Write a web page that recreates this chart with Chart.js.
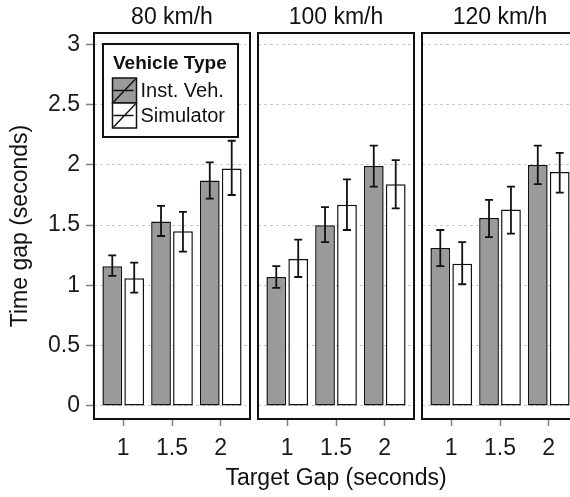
<!DOCTYPE html>
<html><head><meta charset="utf-8">
<script src="https://cdn.jsdelivr.net/npm/chart.js@4/dist/chart.umd.min.js"></script>
<style>
html,body{margin:0;padding:0;background:#fff;overflow:hidden;width:570px;height:497px}
#wrap{position:relative;width:570px;height:497px;overflow:hidden;background:#fff}
canvas{position:absolute;top:0}
</style></head><body>
<div id="wrap">
<canvas id="c1" width="253" height="497" style="left:0px"></canvas>
<canvas id="c2" width="280" height="497" style="left:200px"></canvas>
<canvas id="c3" width="162" height="497" style="left:419px"></canvas>
</div>
<script>
// ---- data ----
const speeds = ['80 km/h', '100 km/h', '120 km/h'];
const targetGaps = ['1', '1.5', '2'];
const seriesNames = ['Inst. Veh.', 'Simulator'];
const legendTitle = 'Vehicle Type';
const yTickValues = [0, 0.5, 1, 1.5, 2, 2.5, 3];
const yTitle = 'Time gap (seconds)';
const xTitle = 'Target Gap (seconds)';

const inst80 = [1.16, 1.53, 1.87];
const inst80Low = [1.08, 1.41, 1.72];
const inst80High = [1.25, 1.66, 2.02];
const sim80 = [1.06, 1.45, 1.97];
const sim80Low = [0.94, 1.28, 1.75];
const sim80High = [1.19, 1.61, 2.20];

const inst100 = [1.07, 1.50, 1.99];
const inst100Low = [0.98, 1.36, 1.82];
const inst100High = [1.16, 1.65, 2.16];
const sim100 = [1.22, 1.67, 1.84];
const sim100Low = [1.07, 1.46, 1.64];
const sim100High = [1.38, 1.88, 2.04];

const inst120 = [1.31, 1.56, 2.00];
const inst120Low = [1.16, 1.40, 1.84];
const inst120High = [1.46, 1.71, 2.16];
const sim120 = [1.18, 1.63, 1.94];
const sim120Low = [1.01, 1.43, 1.77];
const sim120High = [1.36, 1.82, 2.10];

// ---- styling ----
const FONT = "'Liberation Sans', Arial, Helvetica, sans-serif";
const GREY = '#9a9a9a';
Chart.defaults.font.family = FONT;
Chart.defaults.color = '#1a1a1a';

const errorBarPlugin = {
  id: 'errorBars',
  afterDatasetsDraw(chart) {
    const ctx = chart.ctx, ys = chart.scales.y;
    ctx.save();
    ctx.strokeStyle = '#111';
    ctx.lineWidth = 1.8;
    chart.data.datasets.forEach((ds, d) => {
      const meta = chart.getDatasetMeta(d);
      meta.data.forEach((bar, i) => {
        const x = bar.x;
        const yHi = ys.getPixelForValue(ds.errHigh[i]);
        const yLo = ys.getPixelForValue(ds.errLow[i]);
        const cap = 4;
        ctx.beginPath();
        ctx.moveTo(x, yHi); ctx.lineTo(x, yLo);
        ctx.moveTo(x - cap, yHi); ctx.lineTo(x + cap, yHi);
        ctx.moveTo(x - cap, yLo); ctx.lineTo(x + cap, yLo);
        ctx.stroke();
      });
    });
    ctx.restore();
  }
};

const panelBorderPlugin = {
  id: 'panelBorder',
  afterDraw(chart, args, opts) {
    const a = chart.chartArea, ctx = chart.ctx;
    ctx.save();
    ctx.strokeStyle = '#111';
    ctx.lineWidth = 2;
    ctx.strokeRect(a.left, a.top, a.right - a.left, a.bottom - a.top);
    if (opts && opts.xTitle) {
      ctx.fillStyle = '#111';
      ctx.font = '23px ' + FONT;
      ctx.textAlign = 'center';
      ctx.textBaseline = 'middle';
      ctx.fillText(opts.xTitle, (a.left + a.right) / 2, chart.height - 18);
    }
    ctx.restore();
  }
};

const boxLegendPlugin = {
  id: 'boxLegend',
  afterDraw(chart, args, opts) {
    if (!opts || !opts.show) return;
    const a = chart.chartArea, ctx = chart.ctx;
    const bx = a.left + 9, by = a.top + 11, bw = 135, bh = 93;
    ctx.save();
    ctx.fillStyle = '#fff';
    ctx.fillRect(bx, by, bw, bh);
    ctx.strokeStyle = '#111';
    ctx.lineWidth = 2;
    ctx.strokeRect(bx, by, bw, bh);
    ctx.fillStyle = '#111';
    ctx.font = 'bold 19px ' + FONT;
    ctx.textAlign = 'left';
    ctx.textBaseline = 'middle';
    ctx.fillText(legendTitle, bx + 10, by + 20);
    const kx = bx + 9.5, kw = 24, kh = 25;
    chart.data.datasets.forEach((ds, d) => {
      const ky = by + 34 + d * kh;
      ctx.fillStyle = ds.backgroundColor;
      ctx.fillRect(kx, ky, kw, kh);
      ctx.strokeStyle = '#111';
      ctx.lineWidth = 1.5;
      ctx.strokeRect(kx, ky, kw, kh);
      ctx.beginPath();
      ctx.moveTo(kx + 1, ky + kh - 1); ctx.lineTo(kx + kw - 1, ky + 1);
      ctx.moveTo(kx + 1, ky + kh / 2); ctx.lineTo(kx + kw - 3, ky + kh / 2);
      ctx.lineWidth = 1.4;
      ctx.stroke();
      ctx.fillStyle = '#111';
      ctx.font = '20px ' + FONT;
      ctx.fillText(ds.label, kx + kw + 4, ky + kh / 2 + 1);
    });
    ctx.restore();
  }
};

function makePanel(id, p, pad, inst, instLo, instHi, sim, simLo, simHi) {
  const first = p === 0, middle = p === 1;
  return new Chart(document.getElementById(id), {
    type: 'bar',
    data: {
      datasets: [
        { label: seriesNames[0], data: inst.map((v, i) => ({x: i + 1, y: v})),
          errLow: instLo, errHigh: instHi,
          backgroundColor: GREY, borderColor: '#111', borderWidth: 1.5, borderSkipped: false,
          categoryPercentage: 0.9, barPercentage: 0.9 },
        { label: seriesNames[1], data: sim.map((v, i) => ({x: i + 1, y: v})),
          errLow: simLo, errHigh: simHi,
          backgroundColor: '#ffffff', borderColor: '#111', borderWidth: 1.5, borderSkipped: false,
          categoryPercentage: 0.9, barPercentage: 0.9 }
      ]
    },
    options: {
      responsive: false, animation: false, devicePixelRatio: 1,
      layout: { padding: pad },
      plugins: {
        legend: { display: false },
        tooltip: { enabled: false },
        title: { display: true, text: speeds[p], fullSize: false, color: '#111',
                 font: { size: 23, weight: 'normal' }, padding: { top: 3.4, bottom: 2 } },
        boxLegend: { show: first },
        panelBorder: { xTitle: middle ? xTitle : null }
      },
      scales: {
        x: {
          type: 'linear', min: 0.4, max: 3.6, offset: false,
          afterBuildTicks: s => { s.ticks = targetGaps.map((_, i) => ({value: i + 1})); },
          afterFit: s => { s.height = 78; },
          ticks: { callback: v => targetGaps[v - 1], font: { size: 23 }, color: '#1a1a1a', padding: 9, maxRotation: 0 },
          grid: { offset: false, drawOnChartArea: false, drawTicks: true, tickLength: 7, tickColor: '#808080', tickWidth: 1.5, tickBorderDash: [] },
          border: { display: false }
        },
        y: {
          min: -0.108, max: 3.094,
          afterBuildTicks: s => { s.ticks = yTickValues.map(v => ({value: v})); },
          afterFit: s => { s.width = first ? 94 : 0; },
          ticks: { display: first, font: { size: 23 }, color: '#1a1a1a', padding: 6,
                   callback: v => String(v) },
          grid: { color: '#c8c8c8', lineWidth: 1, drawTicks: first, tickLength: 8,
                  tickColor: '#808080', tickWidth: 1.5, tickBorderDash: [] },
          border: { display: false, dash: [3, 3] },
          title: { display: first, text: yTitle, color: '#111', font: { size: 23 }, padding: { top: 7, bottom: 0 } }
        }
      }
    },
    plugins: [errorBarPlugin, panelBorderPlugin, boxLegendPlugin]
  });
}

makePanel('c1', 0, {left: 0, right: 3, top: 0, bottom: 0}, inst80, inst80Low, inst80High, sim80, sim80Low, sim80High);
makePanel('c2', 1, {left: 58, right: 66, top: 0, bottom: 0}, inst100, inst100Low, inst100High, sim100, sim100Low, sim100High);
makePanel('c3', 2, {left: 3, right: 3, top: 0, bottom: 0}, inst120, inst120Low, inst120High, sim120, sim120Low, sim120High);
</script>
</body></html>
